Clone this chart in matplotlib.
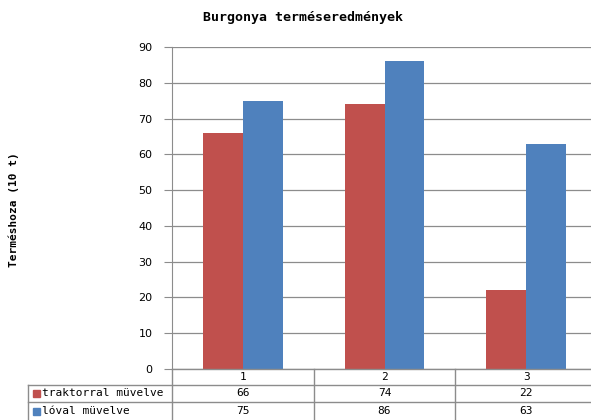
import matplotlib.pyplot as plt
import numpy as np

categories = ['1', '2', '3']
series_names = ['traktorral müvelve', 'lóval müvelve']
traktor = [66, 74, 22]
lo = [75, 86, 63]
colors = ['#C0504D', '#4F81BD']

W, H = 591, 420
fig = plt.figure(figsize=(W / 100, H / 100), dpi=100)

# layout in pixels
x0, x1 = 172, 597
y_top, y_bot = 47, 369
row1, row2, row3 = 385, 402, 420
tab_left = 28

ax = fig.add_axes([x0 / W, (H - y_bot) / H, (x1 - x0) / W, (y_bot - y_top) / H])
x = np.arange(len(categories))
bw = 0.28
ax.bar(x - bw / 2, traktor, bw, color=colors[0])
ax.bar(x + bw / 2, lo, bw, color=colors[1])
ax.set_xlim(-0.5, len(categories) - 0.5)
ax.set_ylim(0, 90)
ax.set_yticks(range(0, 91, 10))
ax.yaxis.grid(True, color='#8c8c8c', linewidth=0.9)
ax.set_axisbelow(True)
for s in ['top', 'right', 'bottom']:
    ax.spines[s].set_visible(False)
ax.spines['left'].set_color('#8c8c8c')
ax.tick_params(axis='y', length=6, color='#8c8c8c', labelsize=8, pad=8)
ax.set_xticks([])

# table drawn in pixel coordinates
tab = fig.add_axes([0, 0, 1, 1], facecolor='none')
tab.set_xlim(0, W)
tab.set_ylim(H, 0)
tab.axis('off')
lc = '#8c8c8c'
colw = (x1 - x0) / len(categories)
edges = [x0 + i * colw for i in range(len(categories) + 1)]
tab.plot([x0, x1], [y_bot, y_bot], color=lc, lw=1)
for yy in [row1, row2]:
    tab.plot([tab_left, x1], [yy, yy], color=lc, lw=1)
tab.plot([tab_left, tab_left], [row1, row3], color=lc, lw=1)
for e in edges[:-1]:
    tab.plot([e, e], [y_bot, row3], color=lc, lw=1)
for i, c in enumerate(categories):
    cx = (edges[i] + edges[i + 1]) / 2
    tab.text(cx, (y_bot + row1) / 2, c, ha='center', va='center', fontsize=8,
             family='DejaVu Sans Mono')
    tab.text(cx, (row1 + row2) / 2, str(traktor[i]), ha='center', va='center',
             fontsize=8, family='DejaVu Sans Mono')
    tab.text(cx, (row2 + row3) / 2, str(lo[i]), ha='center', va='center',
             fontsize=8, family='DejaVu Sans Mono')
for j, (name, yy) in enumerate(zip(series_names, [(row1 + row2) / 2, (row2 + row3) / 2])):
    tab.add_patch(plt.Rectangle((33, yy - 3.5), 7, 7, color=colors[j]))
    tab.text(42, yy, name, ha='left', va='center', fontsize=8,
             family='DejaVu Sans Mono')

fig.text(303 / W, 1 - 17 / H, 'Burgonya terméseredmények', ha='center', va='center',
         fontsize=9.5, fontweight='bold', family='DejaVu Sans Mono')
fig.text(14 / W, 1 - 210 / H, 'Terméshoza (10 t)', ha='center', va='center',
         rotation=90, fontsize=8, fontweight='bold', family='DejaVu Sans Mono')

fig.savefig('out.png', dpi=100)
